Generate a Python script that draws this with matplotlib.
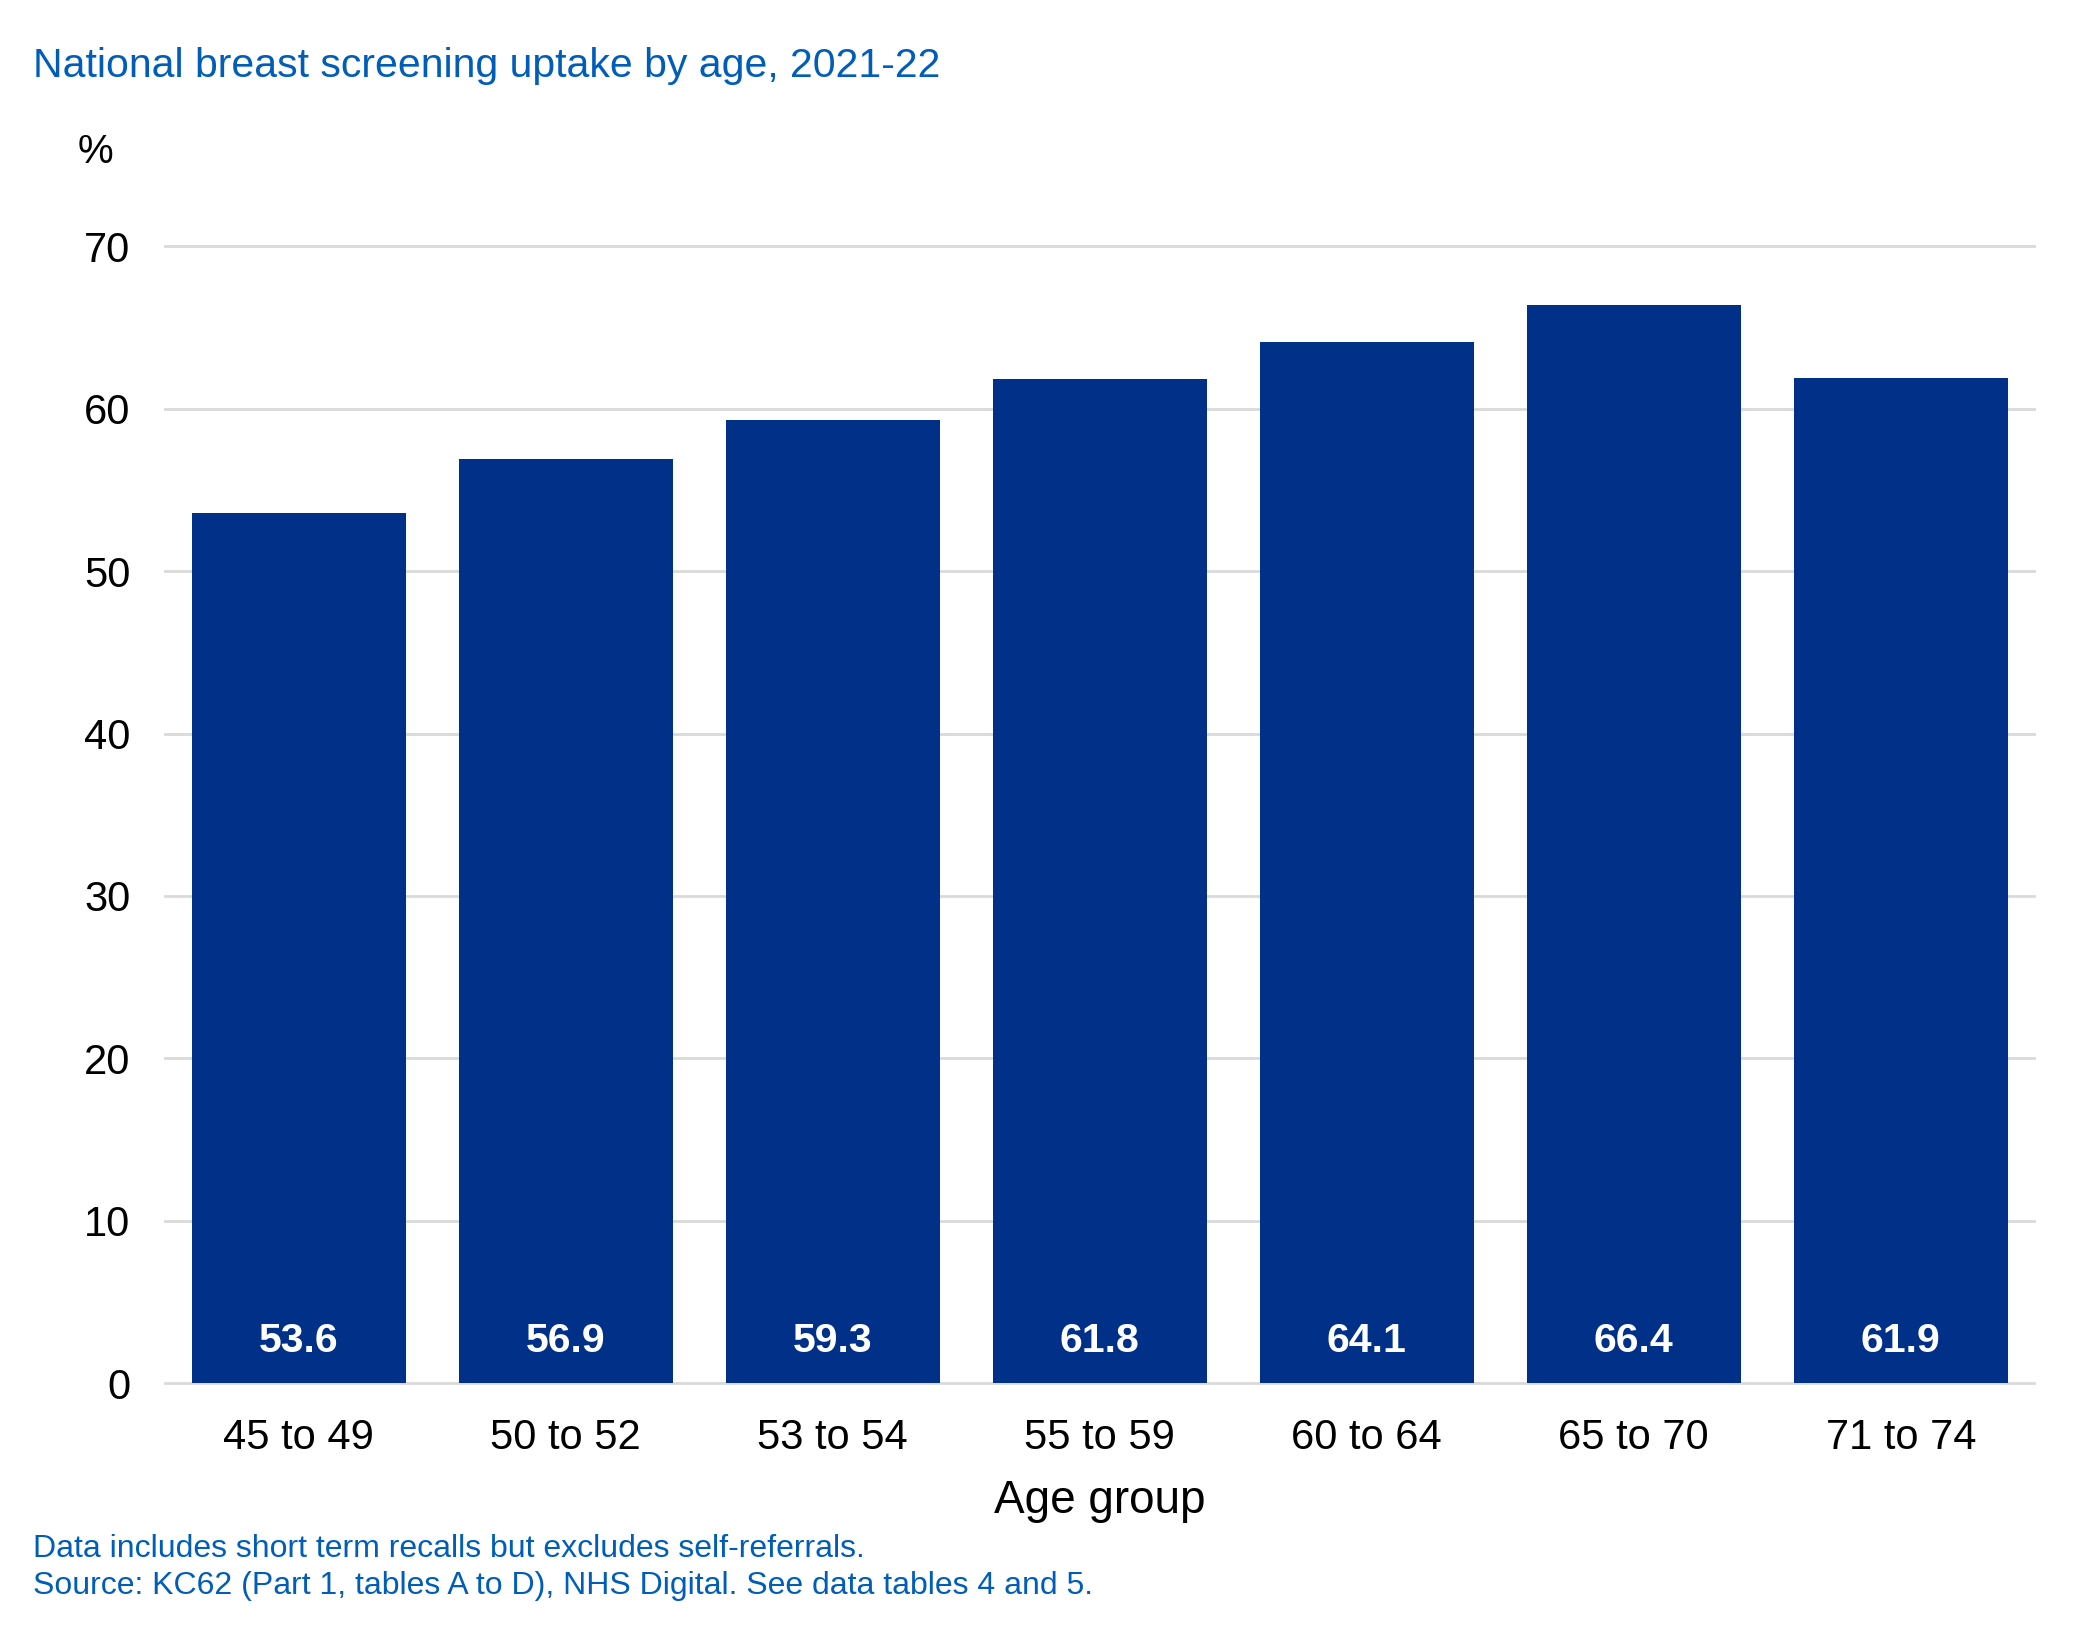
import matplotlib.pyplot as plt
import numpy as np

# data
age_groups = ["45 to 49", "50 to 52", "53 to 54", "55 to 59", "60 to 64", "65 to 70", "71 to 74"]
uptake = [53.6, 56.9, 59.3, 61.8, 64.1, 66.4, 61.9]
y_ticks = [0, 10, 20, 30, 40, 50, 60, 70]

plt.rcParams['font.family'] = ['Liberation Sans', 'DejaVu Sans']

bar_col = "#003087"
blue_txt = "#005EB8"
grid_col = "#D9D9D9"

fig = plt.figure(figsize=(20.79, 16.38), dpi=100)
ax = fig.add_axes([0.0795, 0.1555, 0.899, 0.6942])

x = np.arange(len(age_groups))
ax.bar(x, uptake, width=0.8, color=bar_col, zorder=3)

# value labels near the bottom of each bar
for xi, v in zip(x, uptake):
    ax.text(xi, 2.6, f"{v:.1f}", ha="center", va="center", color="white",
            fontsize=29.5, fontweight="bold", zorder=4)

ax.set_xlim(-0.5, len(age_groups) - 0.5)
ax.set_ylim(0, 70)
ax.set_yticks(y_ticks)
ax.set_xticks(x)
ax.set_xticklabels(age_groups)
ax.tick_params(axis="both", length=0, labelsize=30)
ax.tick_params(axis="y", pad=25)
ax.tick_params(axis="x", pad=25)

for t in y_ticks:
    ax.axhline(t, color=grid_col, lw=2, zorder=1, clip_on=False)

for s in ax.spines.values():
    s.set_visible(False)

ax.set_xlabel("Age group", fontsize=33, labelpad=15)

fig.text(0.016, 0.960, "National breast screening uptake by age, 2021-22",
         color=blue_txt, fontsize=29.5, va="center", ha="left")
fig.text(0.046, 0.907, "%", fontsize=29, va="center", ha="center")
fig.text(0.016, 0.0545, "Data includes short term recalls but excludes self-referrals.",
         color=blue_txt, fontsize=23, va="center", ha="left")
fig.text(0.016, 0.0315, "Source: KC62 (Part 1, tables A to D), NHS Digital. See data tables 4 and 5.",
         color=blue_txt, fontsize=23, va="center", ha="left")

fig.savefig("out.png", dpi=100)
